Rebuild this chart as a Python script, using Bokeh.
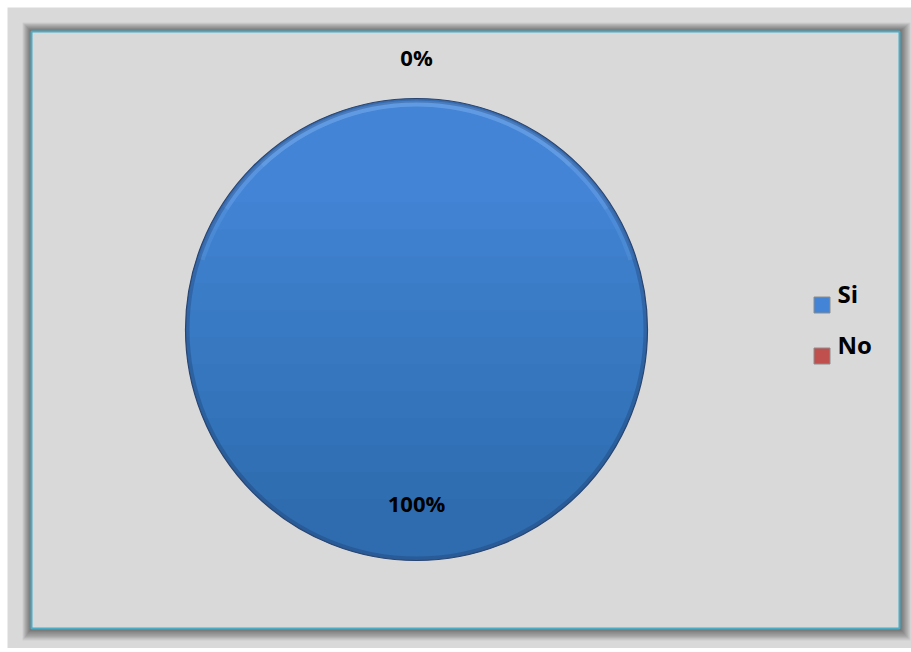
import numpy as np
from bokeh.plotting import figure
from bokeh.models import Range1d, ColumnDataSource
from bokeh.core.properties import value
from bokeh.embed import file_html
from bokeh.resources import INLINE

# ---- data ----
categories = ["Si", "No"]
percent = [100, 0]
slice_colors = ["#4384d6", "#c0504d"]
label_texts = ["100%", "0%"]
source_note_bold = "FUENTE:"
source_note_rest = "Elaboración Propia"

W, H = 911, 648


def fy(ref_y):
    # convert a top-down pixel position into the y-up plot coordinate
    return H - ref_y


p = figure(width=W, height=H, output_backend="svg", toolbar_location=None,
           x_range=Range1d(0, W), y_range=Range1d(0, H),
           x_axis_location=None, y_axis_location=None, min_border=0)
p.grid.visible = False
p.outline_line_color = None
p.background_fill_color = "white"
p.border_fill_color = "white"

# ---- gray page area ----
p.quad(left=[7], right=[W], bottom=[0], top=[fy(7)], fill_color="#d9d9d9", line_color=None)

# ---- chart area box with soft shadow ----
bl, br, bb, bt = 31, 899, fy(628), fy(31)
n_sh = 11
p.quad(left=[bl - k * 0.9 for k in range(1, n_sh)],
       right=[br + k * 1.1 for k in range(1, n_sh)],
       bottom=[bb - k * 1.2 for k in range(1, n_sh)],
       top=[bt + k * 0.9 for k in range(1, n_sh)],
       fill_color="black", fill_alpha=0.06, line_color=None)
p.quad(left=[bl], right=[br], bottom=[bb], top=[bt],
       fill_color="#d9d9d9", line_color="#4bacc6", line_width=2)

# ---- pie ----
cx, cy, r = 416, fy(329), 231
total = float(sum(percent))
frac = np.array(percent) / total
ends = np.cumsum(frac)
starts = ends - frac
start_ang = np.pi / 2 - 2 * np.pi * starts
end_ang = np.pi / 2 - 2 * np.pi * np.minimum(ends, starts + 0.99999)
keep = frac > 0
src = ColumnDataSource(dict(cat=[c for c, k in zip(categories, keep) if k],
                            start=start_ang[keep], end=end_ang[keep],
                            color=[c for c, k in zip(slice_colors, keep) if k]))
p.wedge(x=cx, y=cy, radius=r, start_angle="start", end_angle="end",
        direction="clock", fill_color="color", line_color=None, source=src)

# vertical shading (darker toward the bottom)
seg_xs, seg_ys = [], []
for k in range(12):
    yc = cy + r * (0.55 - 1.4 * k / 12)
    a = np.arcsin((yc - cy) / r)
    th = np.linspace(np.pi - a, 2 * np.pi + a, 80)
    seg_xs.append(list(cx + r * np.cos(th)))
    seg_ys.append(list(cy + r * np.sin(th)))
p.patches(seg_xs, seg_ys, fill_color="#0a1a40", fill_alpha=0.018, line_color=None)

# bevel: light rim at the top, dark rim around the edge
for s, e in [(0.10, 0.90), (0.18, 0.82), (0.26, 0.74)]:
    p.annular_wedge(x=cx, y=cy, inner_radius=r - 8, outer_radius=r - 2,
                    start_angle=np.pi * s, end_angle=np.pi * e,
                    fill_color="#9cc8ff", fill_alpha=0.13, line_color=None)
p.annulus(x=cx, y=cy, inner_radius=r - 4, outer_radius=r,
          fill_color="#1a3560", fill_alpha=0.3, line_color=None)
p.circle(x=cx, y=cy, radius=r, fill_color=None, line_color="#2a4570", line_width=1.2)

# data labels
mid = (start_ang + np.pi / 2 - 2 * np.pi * ends) / 2
lab_r = np.where(frac > 0.5, 0.75 * r, 1.18 * r)
lx = cx + lab_r * np.cos(mid)
ly = cy + lab_r * np.sin(mid)
p.text(x=list(lx), y=list(ly), text=label_texts, text_align="center",
       text_baseline="middle", text_font=value("Open Sans"),
       text_font_style="bold", text_font_size="22px", text_color="black")

# ---- legend ----
leg_x, leg_y0, leg_dy = 821.5, fy(304.5), 51
leg_y = [leg_y0 - i * leg_dy for i in range(len(categories))]
p.scatter(x=[leg_x] * len(categories), y=leg_y, marker="square", size=16,
          fill_color=slice_colors, line_color="#8c8c8c", line_width=1)
p.text(x=[leg_x + 15.5] * len(categories), y=[v + 11.5 for v in leg_y], text=categories,
       text_align="left", text_baseline="alphabetic", text_font=value("Open Sans"),
       text_font_style="bold", text_font_size="24px", text_color="black")

# ---- source note (cut by the bottom edge) ----
p.text(x=[267], y=[fy(659)], text=[source_note_bold], text_align="left",
       text_baseline="alphabetic", text_font=value("Liberation Serif"),
       text_font_style="bold", text_font_size="32px", text_color="black")
p.text(x=[415], y=[fy(659)], text=[source_note_rest], text_align="left",
       text_baseline="alphabetic", text_font=value("Liberation Serif"),
       text_font_size="32px", text_color="black")

open("out.html", "w").write(file_html(p, INLINE))
